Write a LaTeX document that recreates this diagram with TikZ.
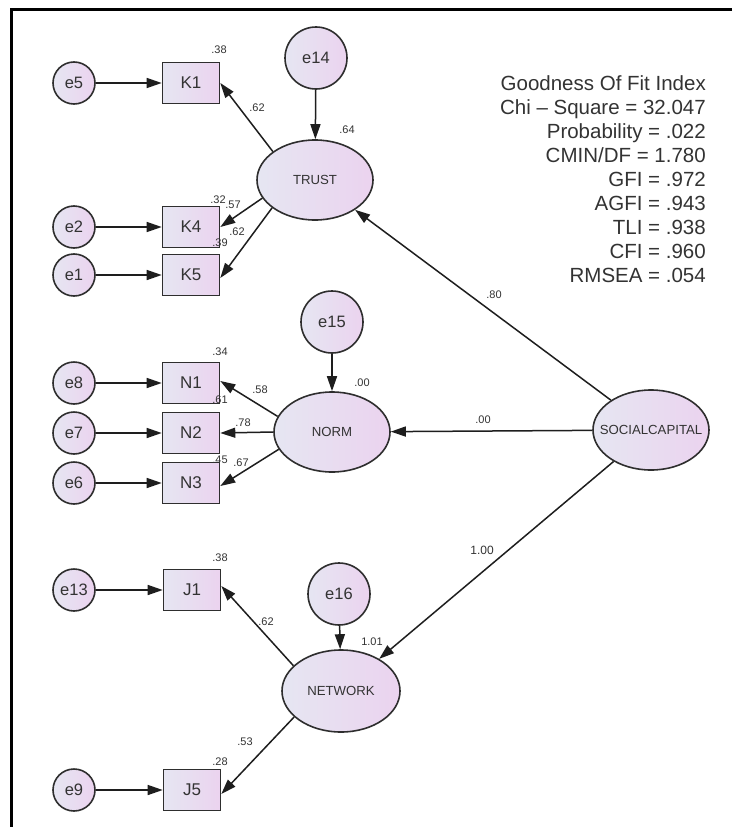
\documentclass[tikz,border=0pt]{standalone}
\usepackage{fontspec}
\setmainfont{Liberation Sans}
\usetikzlibrary{shapes.geometric,arrows.meta}
\definecolor{shL}{HTML}{E6E6F2}
\definecolor{shR}{HTML}{EBD3EF}
\definecolor{edgec}{HTML}{2E2E2E}
\definecolor{linec}{HTML}{1E1E1E}
\definecolor{txt}{HTML}{333333}
\begin{document}
\begin{tikzpicture}[x=1pt,y=-1pt,
 err/.style={circle,draw=edgec,line width=1.6pt,left color=shL,right color=shR,minimum size=42pt,inner sep=0pt,font=\fontsize{16.5}{18}\selectfont,text=txt},
 dist/.style={err,minimum size=62pt},
 obs/.style={rectangle,draw=edgec,line width=1.6pt,left color=shL,right color=shR,minimum width=57pt,minimum height=41pt,inner sep=0pt,font=\fontsize{17}{19}\selectfont,text=txt},
 lat/.style={ellipse,draw=edgec,line width=1.6pt,left color=shL,right color=shR,minimum width=116pt,minimum height=80pt,inner sep=0pt},
 lattext/.style={font=\fontsize{13.2}{15}\selectfont,text=txt,inner sep=0pt},
 link/.style={draw=linec,line width=1.5pt,-{Triangle[length=15pt,width=10pt]}},
 est/.style={font=\fontsize{11}{13}\selectfont,text=txt,inner sep=0pt},
 fit/.style={font=\fontsize{20.5}{24}\selectfont,text=txt,inner sep=0pt,anchor=base east}
]
\useasboundingbox (0,0) rectangle (732,827);
\fill[white] (0,0) rectangle (732,827);
% frame
\coordinate (fTL) at (11,9);
\coordinate (fTR) at (732,9);
\coordinate (fBL) at (11,827);
\draw[line width=3pt,black] (fTR) -- (fTL) -- (fBL);

% TRUST block
\node[err] (e5) at (74,83) {e5};
\node[obs] (K1) at (191,83) {K1};
\node[dist] (e14) at (316,58) {e14};
\node[lat,label={[lattext]center:TRUST}] (TRUST) at (315,180) {};
\node[err] (e2) at (74,227) {e2};
\node[obs] (K4) at (191,227) {K4};
\node[err] (e1) at (74,275) {e1};
\node[obs] (K5) at (191,275) {K5};

% NORM block
\node[dist] (e15) at (332,322) {e15};
\node[lat,label={[lattext]center:NORM}] (NORM) at (332,432) {};
\node[err] (e8) at (74,383) {e8};
\node[obs] (N1) at (191,383) {N1};
\node[err] (e7) at (74,433) {e7};
\node[obs] (N2) at (191,433) {N2};
\node[err] (e6) at (74,483) {e6};
\node[obs] (N3) at (191,483) {N3};

% SOCIAL CAPITAL
\node[lat,label={[lattext]center:SOCIALCAPITAL}] (SC) at (651,430) {};

% NETWORK block
\node[dist] (e16) at (339,594) {e16};
\node[lat,minimum width=118pt,minimum height=82pt,label={[lattext]center:NETWORK}] (NET) at (341,691) {};
\node[err] (e13) at (74,590) {e13};
\node[obs] (J1) at (192,590) {J1};
\node[err] (e9) at (74,790) {e9};
\node[obs] (J5) at (192,790) {J5};

% connectors
\draw[link] (e5) -- (K1);
\draw[link] (e2) -- (K4);
\draw[link] (e1) -- (K5);
\draw[link] (e14) -- (TRUST);
\draw[link] (TRUST.146) -- (K1.east);
\draw[link] (TRUST.199) -- (K4.east);
\draw[link] (TRUST.213) -- ([yshift=-3pt]K5.east);

\draw[link] (e8) -- (N1);
\draw[link] (e7) -- (N2);
\draw[link] (e6) -- (N3);
\draw[link] (e15) -- (NORM);
\draw[link] (NORM.164) -- ([yshift=2pt]N1.east);
\draw[link] (NORM.west) -- (N2.east);
\draw[link] (NORM.198) -- ([yshift=-3pt]N3.east);

\draw[link] (SC) -- (TRUST);
\draw[link] (SC) -- (NORM);
\draw[link] (SC) -- (NET);

\draw[link] (e13) -- (J1);
\draw[link] (e9) -- (J5);
\draw[link] (e16) -- (NET);
\draw[link] (NET.152) -- ([yshift=4pt]J1.east);
\draw[link] (NET.209) -- ([yshift=-4pt]J5.east);

% estimates
\node[est] (r1) at (219,50) {.38};
\node[est] (l1) at (257,108) {.62};
\node[est] (r2) at (347,130) {.64};
\node[est] (r3) at (218,200) {.32};
\node[est] (l2) at (233,205) {.57};
\node[est] (l3) at (237,232) {.62};
\node[est] (r4) at (220,243) {.39};
\node[est] (r5) at (220,352) {.34};
\node[est] (r6) at (362,383) {.00};
\node[est] (l4) at (260,390) {.58};
\node[est] (r7) at (220,400) {.61};
\node[est] (l5) at (243,423) {.78};
\node[est] (r8) at (220,460) {.45};
\node[est] (l6) at (241,463) {.67};
\node[est] (l7) at (494,295) {.80};
\node[est] (l8) at (483,420) {.00};
\node[est,font=\fontsize{12}{14}\selectfont] (l9) at (482,550) {1.00};
\node[est] (r9) at (220,558) {.38};
\node[est] (l10) at (266,622) {.62};
\node[est] (r10) at (372,642) {1.01};
\node[est] (l11) at (245,742) {.53};
\node[est] (r11) at (220,762) {.28};

% fit indices
\node[fit] (g1) at (706,90.5) {Goodness Of Fit Index};
\node[fit] (g2) at (706,114.5) {Chi – Square = 32.047};
\node[fit] (g3) at (706,138.5) {Probability = .022};
\node[fit] (g4) at (706,162.5) {CMIN/DF = 1.780};
\node[fit] (g5) at (706,186.5) {GFI = .972};
\node[fit] (g6) at (706,210.5) {AGFI = .943};
\node[fit] (g7) at (706,234.5) {TLI = .938};
\node[fit] (g8) at (706,258.5) {CFI = .960};
\node[fit] (g9) at (706,282.5) {RMSEA = .054};
\end{tikzpicture}
\end{document}
